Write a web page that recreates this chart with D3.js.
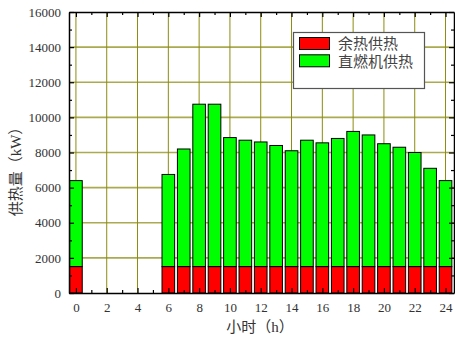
<!DOCTYPE html>
<html>
<head>
<meta charset="utf-8">
<script src="https://cdn.jsdelivr.net/npm/d3@7"></script>
<style>
  html, body { margin: 0; padding: 0; background: #fff; }
  svg { display: block; }
</style>
</head>
<body>
<svg id="chart" width="455" height="338"></svg>
<script>
// Hourly heat supply, split into waste-heat and direct-fired supply
const hours = d3.range(0, 25);
const wasteHeat = [1500, 0, 0, 0, 0, 0, 1500, 1500, 1500, 1500, 1500, 1500, 1500,
                   1500, 1500, 1500, 1500, 1500, 1500, 1500, 1500, 1500, 1500, 1500, 1500];
const totalHeat = [6400, 0, 0, 0, 0, 0, 6750, 8200, 10750, 10750, 8850, 8700, 8600,
                   8400, 8100, 8700, 8550, 8800, 9200, 9000, 8500, 8300, 8000, 7100, 6400];
const directFired = totalHeat.map((t, i) => t - wasteHeat[i]);

const xTicks = d3.range(0, 25, 2);
const yTicks = d3.range(0, 16001, 2000);
const seriesNames = ["余热供热", "直燃机供热"];
const seriesColors = ["#ff0000", "#00ff00"];

const svg = d3.select("#chart");
const plotLeft = 69, plotRight = 454, plotTop = 12, plotBottom = 293;

const x = d3.scaleLinear().domain([-0.45, 24.55]).range([plotLeft, plotRight]);
const y = d3.scaleLinear().domain([0, 16000]).range([plotBottom, plotTop]);
const barW = x(0.82) - x(0);

const serif = "'Liberation Serif', 'DejaVu Serif', serif";
const cjk = "'Liberation Serif', 'Noto Sans CJK SC', sans-serif";

// grid
const grid = svg.append("g");
grid.selectAll("line.h").data(yTicks.filter(v => v > 0 && v < 16000)).join("line")
  .attr("x1", plotLeft).attr("x2", plotRight)
  .attr("y1", d => y(d)).attr("y2", d => y(d))
  .attr("stroke", "#aaaa50").attr("stroke-width", 1.6);
grid.selectAll("line.v").data(xTicks).join("line")
  .attr("y1", plotTop).attr("y2", plotBottom)
  .attr("x1", d => x(d)).attr("x2", d => x(d))
  .attr("stroke", "#8c8c10").attr("stroke-width", 1);

// stacked bars: waste heat at the base, direct-fired on top
const bars = svg.append("g");
hours.forEach((h, i) => {
  if (totalHeat[i] <= 0) return;
  bars.append("rect")
    .attr("x", x(h) - barW / 2).attr("width", barW)
    .attr("y", y(wasteHeat[i] + directFired[i])).attr("height", y(wasteHeat[i]) - y(wasteHeat[i] + directFired[i]))
    .attr("fill", seriesColors[1]).attr("stroke", "#000").attr("stroke-width", 1);
  bars.append("rect")
    .attr("x", x(h) - barW / 2).attr("width", barW)
    .attr("y", y(wasteHeat[i])).attr("height", y(0) - y(wasteHeat[i]))
    .attr("fill", seriesColors[0]).attr("stroke", "#000").attr("stroke-width", 1);
});

// axes with inward ticks on all four sides
function styleAxis(g) {
  g.select(".domain").attr("stroke", "#000").attr("stroke-width", 1.5);
  g.selectAll(".tick line").attr("stroke", "#000").attr("stroke-width", 1.2);
  g.selectAll("text").attr("font-family", serif).attr("font-size", 13).attr("fill", "#333");
}
function styleMinor(g) {
  g.select(".domain").remove();
  g.selectAll(".tick line").attr("stroke", "#000").attr("stroke-width", 1.2);
}
const xMinor = d3.range(1, 25, 2);
const yMinor = d3.range(1000, 16000, 2000);

const bottomAxis = svg.append("g").attr("transform", `translate(0,${plotBottom})`)
  .call(d3.axisBottom(x).tickValues(xTicks).tickSizeInner(-5).tickSizeOuter(0).tickPadding(10).tickFormat(d3.format("d")));
styleAxis(bottomAxis);
svg.append("g").attr("transform", `translate(0,${plotBottom})`)
  .call(d3.axisBottom(x).tickValues(xMinor).tickSizeInner(-3).tickSizeOuter(0).tickFormat(""))
  .call(styleMinor);

const topAxis = svg.append("g").attr("transform", `translate(0,${plotTop})`)
  .call(d3.axisTop(x).tickValues(xTicks).tickSizeInner(-5).tickSizeOuter(0).tickFormat(""));
styleAxis(topAxis);
svg.append("g").attr("transform", `translate(0,${plotTop})`)
  .call(d3.axisTop(x).tickValues(xMinor).tickSizeInner(-3).tickSizeOuter(0).tickFormat(""))
  .call(styleMinor);

const leftAxis = svg.append("g").attr("transform", `translate(${plotLeft},0)`)
  .call(d3.axisLeft(y).tickValues(yTicks).tickSizeInner(-5).tickSizeOuter(0).tickPadding(8).tickFormat(d3.format("d")));
styleAxis(leftAxis);
svg.append("g").attr("transform", `translate(${plotLeft},0)`)
  .call(d3.axisLeft(y).tickValues(yMinor).tickSizeInner(-3).tickSizeOuter(0).tickFormat(""))
  .call(styleMinor);

const rightAxis = svg.append("g").attr("transform", `translate(${plotRight},0)`)
  .call(d3.axisRight(y).tickValues(yTicks).tickSizeInner(-5).tickSizeOuter(0).tickFormat(""));
styleAxis(rightAxis);
svg.append("g").attr("transform", `translate(${plotRight},0)`)
  .call(d3.axisRight(y).tickValues(yMinor).tickSizeInner(-3).tickSizeOuter(0).tickFormat(""))
  .call(styleMinor);

// axis titles
svg.append("text")
  .attr("transform", `translate(21,168) rotate(-90)`)
  .attr("text-anchor", "middle")
  .attr("font-family", cjk).attr("font-size", 15).attr("fill", "#333")
  .text("供热量（kW）");
svg.append("text")
  .attr("x", 260).attr("y", 332)
  .attr("text-anchor", "middle")
  .attr("font-family", cjk).attr("font-size", 15).attr("fill", "#333")
  .text("小时（h）");

// legend
const legend = svg.append("g");
legend.append("rect")
  .attr("x", 293.5).attr("y", 32.5).attr("width", 131).attr("height", 56)
  .attr("fill", "#fff").attr("stroke", "#555").attr("stroke-width", 1.2);
seriesNames.forEach((name, i) => {
  legend.append("rect")
    .attr("x", 299.5).attr("y", 37.5 + i * 17.3).attr("width", 30).attr("height", 12)
    .attr("fill", seriesColors[i]).attr("stroke", "#000").attr("stroke-width", 1);
  legend.append("text")
    .attr("x", 338).attr("y", 48.5 + i * 18)
    .attr("font-family", cjk).attr("font-size", 15).attr("fill", "#444")
    .text(name);
});
</script>
</body>
</html>
